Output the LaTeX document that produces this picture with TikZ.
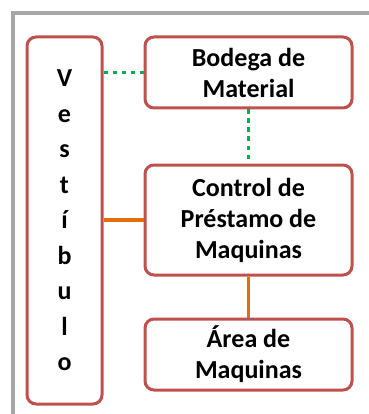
\documentclass[tikz,border=0pt]{standalone}
\usepackage{fontspec}
\setmainfont{Carlito}
\usepackage{xcolor}
\usetikzlibrary{positioning}

\definecolor{boxred}{HTML}{C0504D}
\definecolor{linkgreen}{HTML}{00B050}
\definecolor{linkorange}{HTML}{E46C0A}
\definecolor{framegray}{HTML}{A6A6A6}

\begin{document}
\begin{tikzpicture}[
  x=1pt, y=-1pt,
  area/.style={draw=boxred, line width=3pt, rounded corners=9pt, fill=white,
               minimum width=207pt, align=center,
               font=\fontsize{26}{31}\selectfont\bfseries},
  flow/.style={line width=3.5pt, linkorange},
  supply/.style={line width=3.5pt, linkgreen, dash pattern=on 4.5pt off 4.5pt}
]
  \useasboundingbox (0,0) rectangle (368,414);
  \draw[framegray, line width=3.5pt] (13,420) -- (13,13) -- (375,13);

  \node[area, minimum width=75pt, minimum height=367pt,
        font=\fontsize{26}{35.5}\selectfont\bfseries] (vest) at (64.5,220.5)
        {V\\e\\s\\t\\í\\b\\u\\l\\o};
  \node[area, minimum height=71pt]  (bodega)  at (248.5,72.5) {Bodega de\\Material};
  \node[area, minimum height=110pt] (control) at (248.5,220) {Control de\\Préstamo de\\Maquinas};
  \node[area, minimum height=71pt]  (maq)     at (248.5,354.5) {Área de\\Maquinas};

  \draw[supply] (bodega.west -| vest.east) -- (bodega.west);
  \draw[supply] (bodega.south) -- (control.north);
  \draw[flow] (control.west -| vest.east) -- (control.west);
  \draw[flow] (control.south) -- (maq.north);
\end{tikzpicture}
\end{document}
